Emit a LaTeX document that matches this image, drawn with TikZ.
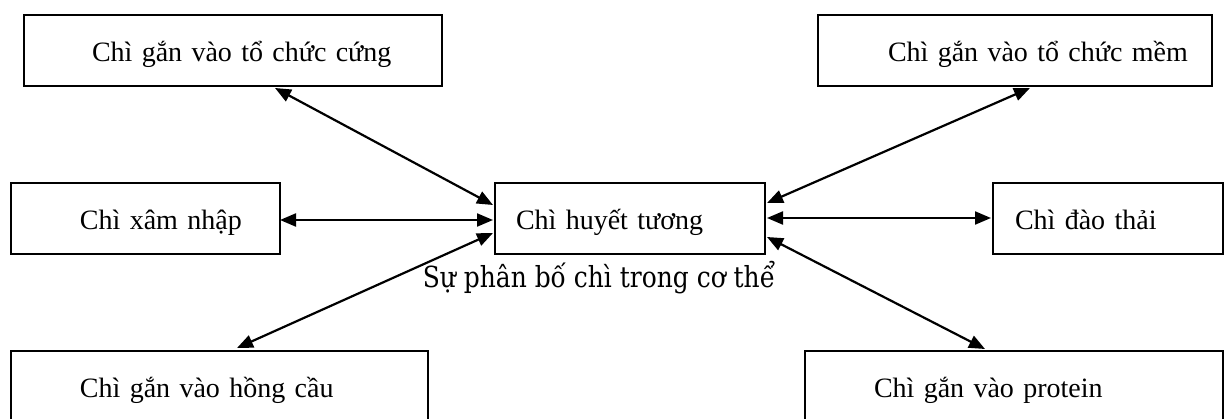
\documentclass[tikz,border=0pt]{standalone}
\usepackage{fontspec}
\setmainfont{Liberation Serif}
\newfontfamily\capfont[FakeStretch=0.86]{DejaVu Serif}
\usetikzlibrary{arrows.meta,calc}
\begin{document}
\begin{tikzpicture}[x=1pt,y=-1pt,
  box/.style={draw, line width=2.2pt, inner sep=0pt, outer sep=0pt, text height=47pt, text depth=24pt,
    align=left, font=\fontsize{28}{32}\selectfont, anchor=north west},
  arr/.style={line width=2.2pt, {Triangle[length=16pt,width=13pt]}-{Triangle[length=16pt,width=13pt]}},
  captext/.style={font=\capfont\fontsize{29}{32}\selectfont, anchor=base, inner sep=0pt}]
\clip (0,0) rectangle (1226,419);
\node[box, text width=418pt] (b1) at (24,15) {\hspace*{68pt}Chì gắn vào tổ chức cứng};
\node[box, text width=394pt] (b2) at (818,15) {\hspace*{70pt}Chì gắn vào tổ chức mềm};
\node[box, text width=269pt] (b3) at (11,183) {\hspace*{69pt}Chì xâm nhập};
\node[box, text width=270pt] (b4) at (495,183) {\hspace*{21pt}Chì huyết tương};
\node[box, text width=230pt] (b5) at (993,183) {\hspace*{22pt}Chì đào thải};
\node[box, text width=417pt] (b6) at (11,351) {\hspace*{69pt}Chì gắn vào hồng cầu};
\node[box, text width=418pt] (b7) at (805,351) {\hspace*{69pt}Chì gắn vào protein};
\node[captext] (caption) at (599,288) {Sự phân bố chì trong cơ thể};
\draw[arr] ($(b1.south west)+(251,2)$) -- ($(b4.north west)+(-2,22)$);
\draw[arr] ($(b3.north east)+(0,37)$) -- ($(b4.north west)+(-2,37)$);
\draw[arr] ($(b6.north west)+(226,-3)$) -- ($(b4.north west)+(-2,50)$);
\draw[arr] ($(b4.north east)+(2,20)$) -- ($(b2.south west)+(212,2)$);
\draw[arr] ($(b4.north east)+(2,35)$) -- ($(b5.north west)+(-2,35)$);
\draw[arr] ($(b4.north east)+(2,54)$) -- ($(b7.north west)+(180,-2)$);
\end{tikzpicture}
\end{document}
